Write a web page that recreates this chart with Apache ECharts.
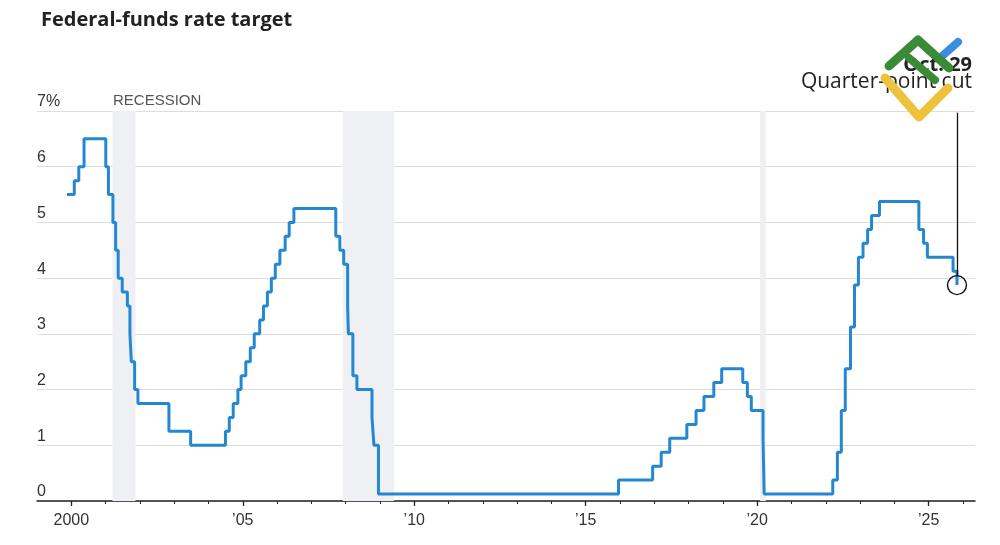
<!DOCTYPE html>
<html>
<head>
<meta charset="utf-8">
<script src="https://cdn.jsdelivr.net/npm/echarts@6/dist/echarts.min.js"></script>
<style>
html,body{margin:0;padding:0;background:#fff;}
#chart{width:1000px;height:545px;}
</style>
</head>
<body>
<div id="chart"></div>
<script>
// Federal-funds rate target (midpoint of range after Dec 2008), effective dates
const changeDates = [
  '1999-11-16','2000-02-02','2000-03-21','2000-05-16',
  '2001-01-03','2001-01-31','2001-03-20','2001-04-18','2001-05-15','2001-06-27',
  '2001-08-21','2001-09-17','2001-10-02','2001-11-06','2001-12-11',
  '2002-11-06','2003-06-25',
  '2004-06-30','2004-08-10','2004-09-21','2004-11-10','2004-12-14',
  '2005-02-02','2005-03-22','2005-05-03','2005-06-30','2005-08-09','2005-09-20',
  '2005-11-01','2005-12-13','2006-01-31','2006-03-28','2006-05-10','2006-06-29',
  '2007-09-18','2007-10-31','2007-12-11',
  '2008-01-22','2008-01-30','2008-03-18','2008-04-30','2008-10-08','2008-10-29','2008-12-16',
  '2015-12-16','2016-12-14','2017-03-15','2017-06-14','2017-12-13',
  '2018-03-21','2018-06-13','2018-09-26','2018-12-19',
  '2019-07-31','2019-09-18','2019-10-30',
  '2020-03-03','2020-03-15',
  '2022-03-16','2022-05-04','2022-06-15','2022-07-27','2022-09-21','2022-11-02','2022-12-14',
  '2023-02-01','2023-03-22','2023-05-03','2023-07-26',
  '2024-09-18','2024-11-07','2024-12-18',
  '2025-09-17','2025-10-29','2025-10-31'
];
const rateValues = [
  5.5, 5.75, 6.0, 6.5,
  6.0, 5.5, 5.0, 4.5, 4.0, 3.75,
  3.5, 3.0, 2.5, 2.0, 1.75,
  1.25, 1.0,
  1.25, 1.5, 1.75, 2.0, 2.25,
  2.5, 2.75, 3.0, 3.25, 3.5, 3.75,
  4.0, 4.25, 4.5, 4.75, 5.0, 5.25,
  4.75, 4.5, 4.25,
  3.5, 3.0, 2.25, 2.0, 1.5, 1.0, 0.125,
  0.375, 0.625, 0.875, 1.125, 1.375,
  1.625, 1.875, 2.125, 2.375,
  2.125, 1.875, 1.625,
  1.125, 0.125,
  0.375, 0.875, 1.625, 2.375, 3.125, 3.875, 4.375,
  4.625, 4.875, 5.125, 5.375,
  4.875, 4.625, 4.375,
  4.125, 3.875, 3.875
];
// Recessions (start, end) as dates
const recessionStarts = ['2001-03-15','2007-12-01','2020-02-01'];
const recessionEnds   = ['2001-11-15','2009-06-01','2020-04-01'];
const labelYears = [2000, 2005, 2010, 2015, 2020, 2025];
const labelTexts = ['2000', '\u201905', '\u201910', '\u201915', '\u201920', '\u201925'];
const tickYears = [2000,2001,2002,2003,2004,2005,2006,2007,2008,2009,2010,2011,2012,2013,
  2014,2015,2016,2017,2018,2019,2020,2021,2022,2023,2024,2025,2026];
const yTickLabels = ['0','1','2','3','4','5','6','7%'];
const annotationDate = '2025-10-29';
const annotationValue = 3.875;

function toYear(s) {
  const d = new Date(s + 'T00:00:00Z');
  const y = d.getUTCFullYear();
  const a = Date.UTC(y, 0, 1), b = Date.UTC(y + 1, 0, 1);
  return y + (d.getTime() - a) / (b - a);
}

const lineData = changeDates.map((d, i) => [toYear(d), rateValues[i]]);
const areas = recessionStarts.map((s, i) => [{ xAxis: toYear(s) }, { xAxis: toYear(recessionEnds[i]) }]);
const annX = toYear(annotationDate);

const fontMain = "'Liberation Sans Narrow','Liberation Sans','Noto Sans',sans-serif";
const fontHead = "'Open Sans','Noto Sans',sans-serif";
const X_MIN = 1999, X_MAX = 2026.35;

const chart = echarts.init(document.getElementById('chart'), null, { renderer: 'canvas' });
chart.setOption({
  animation: false,
  backgroundColor: '#fff',
  title: {
    text: 'Federal-funds rate target',
    left: 36, top: 5,
    textStyle: { fontFamily: fontHead, fontWeight: 'bold', fontSize: 20, color: '#222' }
  },
  grid: { left: 37, right: 25, top: 111, bottom: 44, containLabel: false },
  xAxis: [{
    type: 'value', min: X_MIN, max: X_MAX,
    axisLine: { show: true, lineStyle: { color: '#222', width: 1.5 } },
    axisTick: { show: true, customValues: labelYears, length: 5, lineStyle: { color: '#222', width: 1.3 } },
    axisLabel: {
      customValues: labelYears,
      formatter: v => labelTexts[labelYears.indexOf(Math.round(v))] || '',
      fontFamily: fontMain, fontSize: 16, color: '#333', margin: 12
    },
    splitLine: { show: false }
  }, {
    type: 'value', min: X_MIN, max: X_MAX, position: 'bottom',
    axisLine: { show: false },
    axisTick: { show: true, customValues: tickYears, length: 3, lineStyle: { color: '#222', width: 1 } },
    axisLabel: { show: false },
    splitLine: { show: false }
  }],
  yAxis: {
    type: 'value', min: 0, max: 7, interval: 1,
    axisLine: { show: false }, axisTick: { show: false },
    axisLabel: {
      inside: true, align: 'left', verticalAlign: 'bottom', margin: 0,
      padding: [0, 0, 1, 0],
      formatter: v => yTickLabels[Math.round(v)],
      fontFamily: fontMain, fontSize: 16, color: '#333'
    },
    splitLine: { show: true, lineStyle: { color: '#dedede', width: 1 } }
  },
  series: [{
    type: 'line', step: 'end', data: lineData, showSymbol: false, z: 3,
    xAxisIndex: 0,
    lineStyle: { color: '#2387d1', width: 3 },
    markArea: { silent: true, itemStyle: { color: '#eff0f3' }, data: areas },
    markLine: {
      silent: true, symbol: 'none', label: { show: false },
      lineStyle: { color: '#111', width: 1.3, type: 'solid' },
      data: [[{ coord: [annX, annotationValue + 0.17] }, { coord: [annX, 6.97] }]]
    },
    markPoint: {
      silent: true, symbol: 'circle', symbolSize: 19, label: { show: false },
      itemStyle: { color: 'rgba(0,0,0,0)', borderColor: '#111', borderWidth: 1.4 },
      data: [{ coord: [annX, annotationValue] }]
    }
  }],
  graphic: [
    { type: 'text', z: 10,
      style: { x: 113, y: 101, text: 'RECESSION', textVerticalAlign: 'middle', fontFamily: fontMain, fontSize: 15, fill: '#555' } },
    { type: 'text', z: 10, style: { x: 972, y: 65, text: 'Oct. 29', textAlign: 'right', textVerticalAlign: 'middle',
      fontFamily: fontHead, fontWeight: 'bold', fontSize: 20, fill: '#222' } },
    { type: 'text', z: 10, style: { x: 972, y: 82, text: 'Quarter-point cut', textAlign: 'right', textVerticalAlign: 'middle',
      fontFamily: fontHead, fontSize: 21, fill: '#222' } },
    { type: 'polyline', z: 20, shape: { points: [[885, 78], [919, 117], [948, 88]] },
      style: { stroke: '#eec23a', lineWidth: 9, lineCap: 'round', lineJoin: 'round', fill: null } },
    { type: 'line', z: 21, shape: { x1: 941, y1: 57, x2: 958, y2: 42 },
      style: { stroke: '#3b8ede', lineWidth: 8, lineCap: 'round' } },
    { type: 'polyline', z: 22, shape: { points: [[889, 66], [918, 40], [949, 68]] },
      style: { stroke: '#3a8b37', lineWidth: 9, lineCap: 'round', lineJoin: 'round', fill: null } },
    { type: 'line', z: 22, shape: { x1: 909, y1: 58, x2: 935, y2: 80 },
      style: { stroke: '#3a8b37', lineWidth: 8, lineCap: 'round' } }
  ]
});
</script>
</body>
</html>
